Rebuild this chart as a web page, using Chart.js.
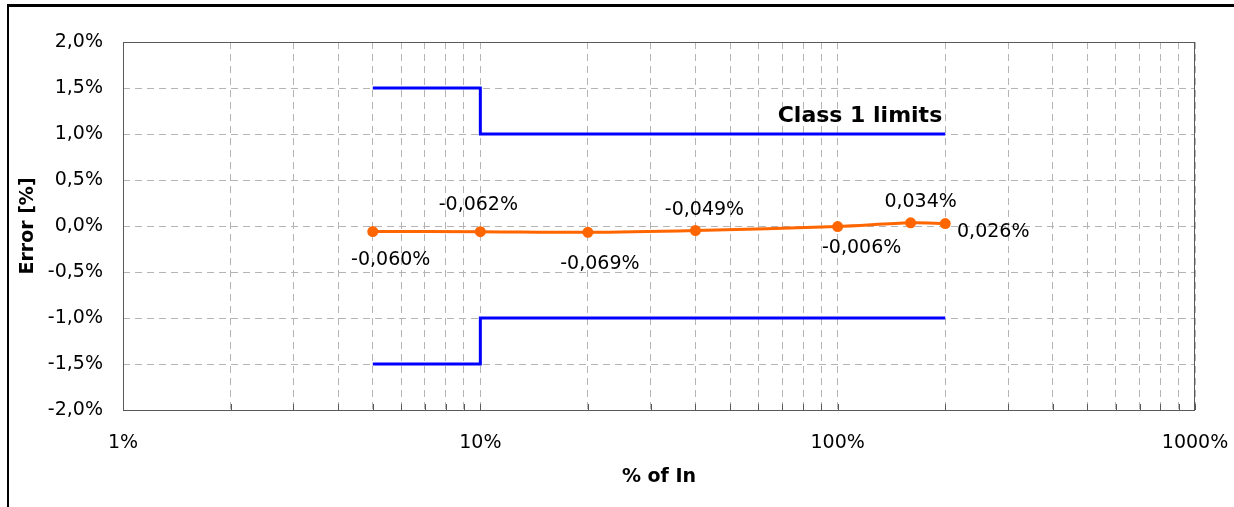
<!DOCTYPE html>
<html>
<head>
<meta charset="utf-8">
<script src="https://cdn.jsdelivr.net/npm/chart.js@4/dist/chart.umd.min.js"></script>
<style>
  body { margin: 0; background: #fff; }
  #wrap { position: relative; width: 1234px; height: 507px; }
  #frame {
    position: absolute; left: 7px; top: 4px; width: 1227px; height: 503px;
    border-top: 3px solid #000; border-left: 2px solid #000; box-sizing: border-box;
    pointer-events: none;
  }
</style>
</head>
<body>
<div id="wrap">
  <canvas id="errChart" width="1234" height="507"></canvas>
  <div id="frame"></div>
</div>
<script>
// ---- data ----
const loadPct = [5, 10, 20, 40, 100, 160, 200];
const errorPct = [-0.060, -0.062, -0.069, -0.049, -0.006, 0.034, 0.026];

const limitX = [5, 10, 10, 200];
const upperLimit = [1.5, 1.5, 1.0, 1.0];
const lowerLimit = [-1.5, -1.5, -1.0, -1.0];

const xDecades = [1, 10, 100];
const xSteps = [1, 2, 3, 4, 5, 6, 7, 8, 9];
const xLast = 1000;

const FONT = '"DejaVu Sans", Verdana, sans-serif';
const fmtPct = (v, d) => v.toFixed(d).replace('.', ',') + '%';
const pts = (xs, ys) => xs.map((x, i) => ({ x, y: ys[i] }));

// label offsets from the point, in px
const labelOffsets = [[18, 29], [-2, -27], [12, 32], [9, -20], [24, 22], [10, -21], [48, 8]];

const extras = {
  id: 'extras',
  beforeDatasetsDraw(chart) {
    const { ctx, chartArea: a, scales } = chart;
    ctx.save();
    ctx.strokeStyle = '#595959';
    ctx.lineWidth = 1;
    ctx.strokeRect(a.left + 0.5, a.top + 0.5, a.right - a.left - 1, a.bottom - a.top);
    // small inside ticks on x axis
    ctx.beginPath();
    scales.x.ticks.forEach(t => {
      const px = Math.round(scales.x.getPixelForValue(t.value)) + 0.5;
      ctx.moveTo(px, a.bottom);
      ctx.lineTo(px, a.bottom - 6);
    });
    ctx.stroke();
    ctx.restore();
  },
  afterDatasetsDraw(chart) {
    const { ctx, scales } = chart;
    const meta = chart.getDatasetMeta(0);
    ctx.save();
    ctx.fillStyle = '#000';
    ctx.font = '19px ' + FONT;
    ctx.textAlign = 'center';
    ctx.textBaseline = 'middle';
    meta.data.forEach((p, i) => {
      const [dx, dy] = labelOffsets[i];
      ctx.fillText(fmtPct(errorPct[i], 3), p.x + dx, p.y + dy);
    });
    ctx.font = 'bold 22px ' + FONT;
    ctx.textAlign = 'right';
    ctx.fillText('Class 1 limits', scales.x.getPixelForValue(200) - 3, scales.y.getPixelForValue(1.0) - 18);
    ctx.restore();
  }
};

new Chart(document.getElementById('errChart'), {
  type: 'line',
  data: {
    datasets: [
      {
        label: 'Error',
        data: pts(loadPct, errorPct),
        borderColor: '#ff6600',
        backgroundColor: '#ff6600',
        borderWidth: 3,
        pointRadius: 4,
        pointHoverRadius: 4,
        tension: 0.3
      },
      {
        label: 'Upper limit',
        data: pts(limitX, upperLimit),
        borderColor: '#0000ff',
        borderWidth: 3,
        pointRadius: 0,
        tension: 0
      },
      {
        label: 'Lower limit',
        data: pts(limitX, lowerLimit),
        borderColor: '#0000ff',
        borderWidth: 3,
        pointRadius: 0,
        tension: 0
      }
    ]
  },
  options: {
    responsive: false,
    animation: false,
    devicePixelRatio: 1,
    layout: { padding: { left: 0, top: 42, right: 39, bottom: 0 } },
    plugins: { legend: { display: false }, tooltip: { enabled: false } },
    scales: {
      x: {
        type: 'logarithmic',
        min: 1,
        max: 1000,
        afterBuildTicks: s => {
          const t = [];
          xDecades.forEach(d => xSteps.forEach(k => t.push({ value: d * k })));
          t.push({ value: xLast });
          s.ticks = t;
        },
        afterFit: s => { s.height = 97; s.paddingLeft = 0; s.paddingRight = 0; },
        grid: { color: '#b4b4b4', lineWidth: 1, drawTicks: false },
        border: { display: false, dash: [7, 5] },
        ticks: {
          autoSkip: false,
          maxRotation: 0,
          padding: 22,
          color: '#000',
          font: { family: FONT, size: 19 },
          callback: v => Number.isInteger(Math.log10(v)) ? v + '%' : ''
        },
        title: {
          display: true,
          text: '% of In',
          color: '#000',
          font: { family: FONT, size: 19, weight: 'bold' },
          padding: { top: 0, bottom: 19 }
        }
      },
      y: {
        min: -2,
        max: 2,
        afterFit: s => { s.width = 123; s.paddingTop = 0; s.paddingBottom = 0; },
        grid: { color: '#b4b4b4', lineWidth: 1, drawTicks: false },
        border: { display: false, dash: [7, 5] },
        ticks: {
          stepSize: 0.5,
          padding: 20,
          color: '#000',
          font: { family: FONT, size: 19 },
          callback: v => fmtPct(v, 1)
        },
        title: {
          display: true,
          text: 'Error [%]',
          color: '#000',
          font: { family: FONT, size: 19, weight: 'bold' },
          padding: { top: 17, bottom: 0 }
        }
      }
    }
  },
  plugins: [extras]
});
</script>
</body>
</html>
